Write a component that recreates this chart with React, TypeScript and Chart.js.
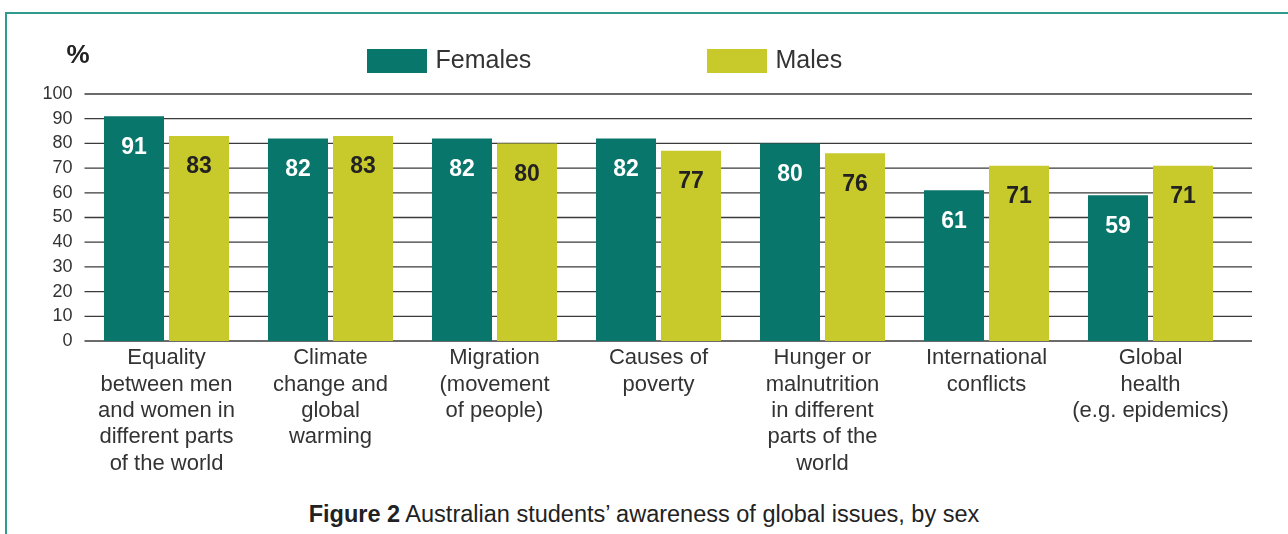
import React, { useEffect, useRef } from "react";
import { Chart, registerables } from "chart.js";

Chart.register(...registerables);

// ---- Data ----
const categories: string[][] = [
  ["Equality", "between men", "and women in", "different parts", "of the world"],
  ["Climate", "change and", "global", "warming"],
  ["Migration", "(movement", "of people)"],
  ["Causes of", "poverty"],
  ["Hunger or", "malnutrition", "in different", "parts of the", "world"],
  ["International", "conflicts"],
  ["Global", "health", "(e.g. epidemics)"],
];
const females: number[] = [91, 82, 82, 82, 80, 61, 59];
const males: number[] = [83, 83, 80, 77, 76, 71, 71];
const seriesNames: string[] = ["Females", "Males"];
const yMin = 0;
const yMax = 100;
const yStep = 10;
const yAxisTitle = "%";
const captionBold = "Figure 2";
const captionRest = " Australian students’ awareness of global issues, by sex";

// ---- Styles ----
const TEAL = "#08766b";
const LIME = "#c8ca2c";
const FRAME = "#2f9b8d";
const TEXT = "#333333";
const FONT = "'Liberation Sans', Arial, Helvetica, sans-serif";

const W = 1288;
const H = 490;
const GRID_EXTRA_RIGHT = 19.5;

const decorPlugin = {
  id: "decor",
  beforeDatasetsDraw(chart: any) {
    const ctx = chart.ctx;
    const area = chart.chartArea;
    const y = chart.scales.y;
    ctx.save();
    ctx.strokeStyle = "#3a3a3a";
    ctx.lineWidth = 1.3;
    y.ticks.forEach((t: any) => {
      const py = y.getPixelForValue(t.value);
      ctx.beginPath();
      ctx.moveTo(area.left, py);
      ctx.lineTo(area.right + GRID_EXTRA_RIGHT, py);
      ctx.stroke();
    });
    ctx.restore();
  },
  afterDatasetsDraw(chart: any) {
    const ctx = chart.ctx;
    ctx.save();
    ctx.font = `bold 23px ${FONT}`;
    ctx.textAlign = "center";
    ctx.textBaseline = "middle";
    chart.data.datasets.forEach((ds: any, i: number) => {
      const meta = chart.getDatasetMeta(i);
      meta.data.forEach((el: any, j: number) => {
        ctx.fillStyle = i === 0 ? "#ffffff" : "#222222";
        ctx.fillText(String(ds.data[j]), el.x, el.y + 31);
      });
    });
    ctx.restore();
  },
  afterDraw(chart: any) {
    const ctx = chart.ctx;
    const area = chart.chartArea;
    ctx.save();
    // axis title
    ctx.font = `bold 26px ${FONT}`;
    ctx.fillStyle = "#222222";
    ctx.textAlign = "center";
    ctx.textBaseline = "middle";
    ctx.fillText(yAxisTitle, area.left - 6.5, area.top - 38);
    // legend
    const xs = [367, 707];
    ctx.font = `25px ${FONT}`;
    ctx.textAlign = "left";
    chart.data.datasets.forEach((ds: any, i: number) => {
      ctx.fillStyle = ds.backgroundColor;
      ctx.fillRect(xs[i], 49, 60, 24);
      ctx.fillStyle = TEXT;
      ctx.fillText(ds.label, xs[i] + 68.5, 61);
    });
    ctx.restore();
  },
};

export default function App() {
  const ref = useRef<HTMLCanvasElement | null>(null);

  useEffect(() => {
    if (!ref.current) return;
    const chart = new Chart(ref.current, {
      type: "bar",
      data: {
        labels: categories,
        datasets: [
          { label: seriesNames[0], data: females, backgroundColor: TEAL },
          { label: seriesNames[1], data: males, backgroundColor: LIME },
        ],
      },
      options: {
        responsive: false,
        animation: false,
        devicePixelRatio: 1,
        layout: { padding: { left: 0, top: 94, right: 55.5, bottom: 0 } },
        datasets: {
          bar: { categoryPercentage: 0.793, barPercentage: 0.923 },
        },
        plugins: {
          legend: { display: false },
          tooltip: { enabled: false },
          title: { display: false },
        },
        scales: {
          x: {
            grid: { display: false, drawTicks: false },
            border: { display: false },
            ticks: {
              color: TEXT,
              font: { family: FONT, size: 22, lineHeight: 1.2 },
              padding: 4,
              maxRotation: 0,
              autoSkip: false,
            },
            afterFit: (s: any) => {
              s.height = H - 341;
            },
          },
          y: {
            min: yMin,
            max: yMax,
            grid: { display: false, drawTicks: false },
            border: { display: false },
            ticks: {
              stepSize: yStep,
              color: TEXT,
              font: { family: FONT, size: 18 },
              padding: 12,
            },
            afterFit: (s: any) => {
              s.width = 84.5;
            },
          },
        },
      },
      plugins: [decorPlugin],
    });
    return () => chart.destroy();
  }, []);

  return (
    <div style={{ position: "absolute", left: 0, top: 0, width: W, height: 534, background: "#fff", overflow: "hidden" }}>
      <div
        style={{
          position: "absolute",
          left: 5,
          top: 12,
          right: -10,
          bottom: -10,
          borderTop: `2px solid ${FRAME}`,
          borderLeft: `2px solid ${FRAME}`,
        }}
      />
      <canvas ref={ref} width={W} height={H} style={{ position: "absolute", left: 0, top: 0, display: "block" }} />
      <div
        style={{
          position: "absolute",
          left: 0,
          top: 500,
          width: W,
          textAlign: "center",
          fontFamily: FONT,
          fontSize: 23.5,
          lineHeight: "28px",
          color: "#222",
        }}
      >
        <b>{captionBold}</b>
        {captionRest}
      </div>
    </div>
  );
}
